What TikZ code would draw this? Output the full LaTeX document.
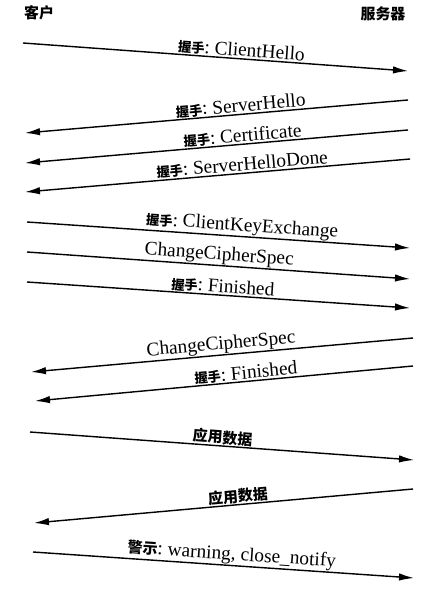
\documentclass[tikz,border=0pt]{standalone}
\usepackage{fontspec}
\setmainfont{Liberation Serif}
\newfontfamily\cjk{Noto Sans CJK SC}
\usetikzlibrary{arrows.meta}
\newcommand{\hsk}{{\cjk\bfseries\fontsize{7.5}{9}\selectfont 握手}:~}
\newcommand{\cn}[1]{{\cjk\bfseries\fontsize{8.5}{10}\selectfont #1}}

\begin{document}
\begin{tikzpicture}[x=0.02cm, y=-0.02cm, auto,
    msg/.style={line width=0.8pt, -{Latex[length=3mm,width=1.5mm]}},
    lbl/.style={sloped, above, inner sep=0.4pt, font=\fontsize{11}{13}\selectfont}]
    \useasboundingbox (0,0) rectangle (447,598);
    \node (client) at (39, 13) {\cn{客户}};
    \node (server) at (383, 14) {\cn{服务器}};
    \coordinate (c1) at (23, 43);   \coordinate (s1) at (408, 71);
    \coordinate (s2) at (408, 100); \coordinate (c2) at (25, 133);
    \coordinate (s3) at (408, 130); \coordinate (c3) at (25, 163);
    \coordinate (s4) at (410, 159); \coordinate (c4) at (25, 192);
    \coordinate (c5) at (27, 222);  \coordinate (s5) at (410, 248);
    \coordinate (c6) at (27, 252);  \coordinate (s6) at (410, 279);
    \coordinate (c7) at (27, 282);  \coordinate (s7) at (410, 308);
    \coordinate (s8) at (413, 338); \coordinate (c8) at (31, 372);
    \coordinate (s9) at (413, 366); \coordinate (c9) at (35, 401);
    \coordinate (c10) at (30, 432); \coordinate (s10) at (414, 460);
    \coordinate (s11) at (413, 489); \coordinate (c11) at (34, 523);
    \coordinate (c12) at (33, 552); \coordinate (s12) at (414, 578);
    \draw [msg] (c1) to node[lbl, pos=0.566] {\hsk ClientHello} (s1);
    \draw [msg] (s2) to node[lbl, pos=0.435] {\hsk ServerHello} (c2);
    \draw [msg] (s3) to node[lbl, pos=0.43] {\hsk Certificate} (c3);
    \draw [msg] (s4) to node[lbl, pos=0.434] {\hsk ServerHelloDone} (c4);
    \draw [msg] (c5) to node[lbl, pos=0.56] {\hsk ClientKeyExchange} (s5);
    \draw [msg] (c6) to node[lbl, pos=0.5] {ChangeCipherSpec} (s6);
    \draw [msg] (c7) to node[lbl, pos=0.51] {\hsk Finished} (s7);
    \draw [msg] (s8) to node[lbl, pos=0.5] {ChangeCipherSpec} (c8);
    \draw [msg] (s9) to node[lbl, pos=0.44] {\hsk Finished} (c9);
    \draw [msg] (c10) to node[lbl, pos=0.5] {\cn{应用数据}} (s10);
    \draw [msg] (s11) to node[lbl, pos=0.46] {\cn{应用数据}} (c11);
    \draw [msg] (c12) to node[lbl, pos=0.52] {\cn{警示}:~warning, close\_notify} (s12);
  \end{tikzpicture}
\end{document}
